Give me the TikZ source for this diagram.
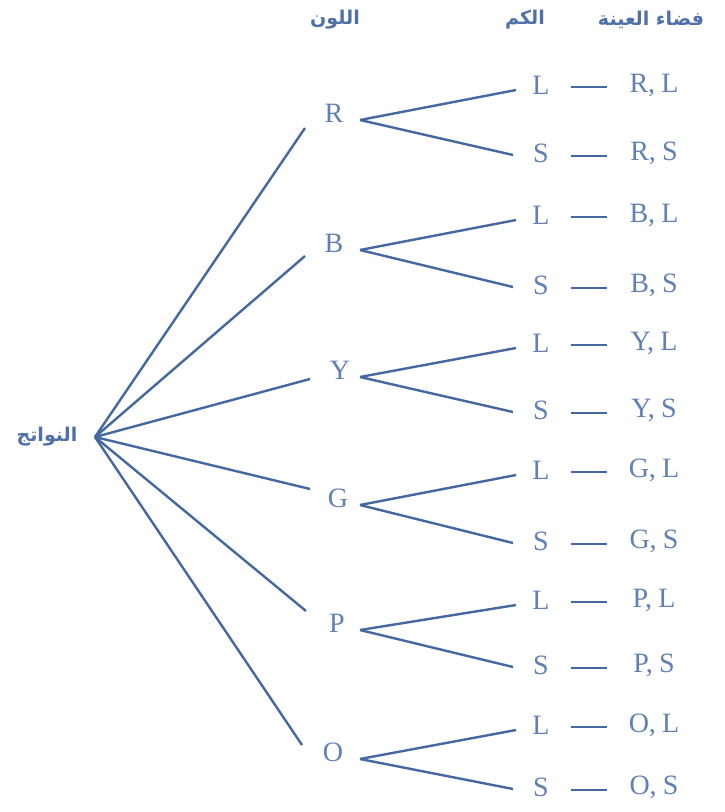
\documentclass[tikz,border=0pt]{standalone}
\usepackage{fontspec}
\setmainfont{Liberation Serif}
\newfontfamily\arabicfont[Script=Arabic]{DejaVu Sans}
\TeXXeTstate=1
\definecolor{lineblue}{RGB}{70,104,160}
\definecolor{textblue}{RGB}{96,128,182}
\definecolor{headblue}{RGB}{80,112,168}
\begin{document}
\begin{tikzpicture}[x=1pt,y=-1pt,
  edge/.style={draw=lineblue,line width=2.4pt},
  letter/.style={text=textblue,font=\fontsize{28}{30}\selectfont,inner sep=0pt},
  head/.style={text=headblue,font=\arabicfont\bfseries\fontsize{19}{22}\selectfont,inner sep=0pt}]
\useasboundingbox[fill=white] (0,0) rectangle (724,812);
% headers
\node[head] (h1) at (335,20) {\beginR اللون\endR};
\node[head] (h2) at (525,20) {\beginR الكم\endR};
\node[head] (h3) at (651,20) {\beginR فضاء العينة\endR};
% root
\node[head] (rootlabel) at (47,437) {\beginR النواتج\endR};
\coordinate (root) at (95,437);
\foreach \c/\cx/\yc/\yl/\ys/\ix/\iy in {R/334/113/85/153/305/128, B/334/243/215/285/305/256, Y/340/370/343/410/310/379, G/338/498/470/541/310/489, P/337/623/600/665/306/611, O/333/752/725/787/302/745}{
  \node[letter] (c\c) at (\cx,\yc) {\c};
  \coordinate (in\c) at (\ix,\iy);
  \coordinate (out\c) at (360,\yc+7);
  \node[letter] (L\c) at (541,\yl) {L};
  \node[letter] (S\c) at (541,\ys) {S};
  \coordinate (Lend\c) at (516,\yl+5);
  \coordinate (Send\c) at (513,\ys+2);
  \coordinate (dLa\c) at (571,\yl+2);
  \coordinate (dLb\c) at (607,\yl+2);
  \coordinate (dSa\c) at (571,\ys+3);
  \coordinate (dSb\c) at (607,\ys+3);
  \node[letter] (pL\c) at (654,\yl) {\c,\hspace{0.22em}L};
  \node[letter] (pS\c) at (654,\ys) {\c,\hspace{0.22em}S};
  \draw[edge] (root) -- (in\c);
  \draw[edge] (out\c) -- (Lend\c);
  \draw[edge] (out\c) -- (Send\c);
  \draw[edge] (dLa\c) -- (dLb\c);
  \draw[edge] (dSa\c) -- (dSb\c);
}
\end{tikzpicture}
\end{document}
